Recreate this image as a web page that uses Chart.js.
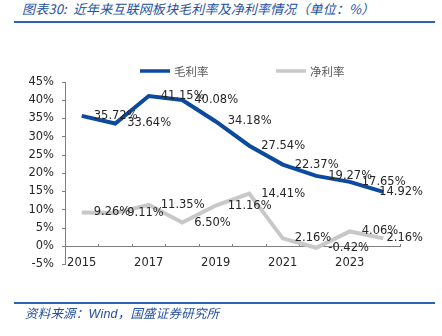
<!DOCTYPE html>
<html>
<head>
<meta charset="utf-8">
<script src="https://cdn.jsdelivr.net/npm/chart.js@4.4.1/dist/chart.umd.min.js"></script>
<style>
  html, body { margin: 0; padding: 0; background: #fff; }
  #wrap { position: relative; width: 442px; height: 336px; overflow: hidden; background: #fff; }
  #chart { position: absolute; left: 0; top: 0; }
  .cap { position: absolute; font-family: "Noto Sans CJK SC"; font-style: italic; color: #24509E; white-space: nowrap; }
  .rule { position: absolute; left: 14px; width: 421px; height: 2px; background: #2A62B5; }
</style>
</head>
<body>
<div id="wrap">
  <div class="cap" style="left:22px; top:1px; font-size:13px; line-height:16px; letter-spacing:0.15px;">图表30:&nbsp; 近年来互联网板块毛利率及净利率情况（单位：%）</div>
  <div class="rule" style="top:21px;"></div>
  <canvas id="chart" width="442" height="336"></canvas>
  <div class="rule" style="top:302px;"></div>
  <div class="cap" style="left:25px; top:305px; font-size:12.5px; line-height:16px; letter-spacing:0.2px;">资料来源：<span style="font-family:'Liberation Sans', Arial;">Wind</span>，国盛证券研究所</div>
</div>
<script>
// Yearly figures for the internet sector (%)
const years = ['2015', '2016', '2017', '2018', '2019', '2020', '2021', '2022', '2023', '2024'];
const grossMargin = [35.72, 33.64, 41.15, 40.08, 34.18, 27.54, 22.37, 19.27, 17.65, 14.92];
const netMargin = [9.26, 9.11, 11.35, 6.50, 11.16, 14.41, 2.16, -0.42, 4.06, 2.16];
const seriesNames = ['毛利率', '净利率'];
const yMin = -5, yMax = 45, yStep = 5;

const AXIS_COLOR = '#7f7f7f';
const TEXT_COLOR = '#262626';
const NUM_FONT = { family: 'DejaVu Sans', size: 11.5 };

Chart.defaults.font.family = 'DejaVu Sans';

// Percentage label placed to the right of each point, kept inside the canvas
const valueLabels = {
  id: 'valueLabels',
  afterDatasetsDraw(chart) {
    const ctx = chart.ctx;
    ctx.save();
    ctx.font = NUM_FONT.size + 'px "' + NUM_FONT.family + '"';
    ctx.fillStyle = TEXT_COLOR;
    ctx.textAlign = 'left';
    ctx.textBaseline = 'middle';
    chart.data.datasets.forEach((ds, di) => {
      const meta = chart.getDatasetMeta(di);
      meta.data.forEach((pt, i) => {
        const txt = ds.data[i].toFixed(2) + '%';
        const w = ctx.measureText(txt).width;
        let x = pt.x + 12;
        if (x + w > 423) x = 423 - w;
        ctx.fillText(txt, x, pt.y);
      });
    });
    ctx.restore();
  }
};

// Legend row above the plot: line sample followed by the series name
const topLegend = {
  id: 'topLegend',
  afterDraw(chart) {
    const ctx = chart.ctx;
    const starts = [140, 276];
    const y = 71;
    ctx.save();
    chart.data.datasets.forEach((ds, i) => {
      const x0 = starts[i];
      ctx.strokeStyle = ds.borderColor;
      ctx.lineWidth = 3.5;
      ctx.lineCap = 'butt';
      ctx.beginPath();
      ctx.moveTo(x0, y);
      ctx.lineTo(x0 + 30, y);
      ctx.stroke();
      ctx.font = '11.5px "Noto Sans CJK SC"';
      ctx.fillStyle = '#595959';
      ctx.textAlign = 'left';
      ctx.textBaseline = 'middle';
      ctx.fillText(ds.label, x0 + 34, y + 0.5);
    });
    ctx.restore();
  }
};

new Chart(document.getElementById('chart'), {
  type: 'line',
  data: {
    labels: years,
    datasets: [
      { label: seriesNames[0], data: grossMargin, borderColor: '#0B4A9E', borderWidth: 4,
        pointRadius: 0, tension: 0, fill: false },
      { label: seriesNames[1], data: netMargin, borderColor: '#C8C8C8', borderWidth: 4,
        pointRadius: 0, tension: 0, fill: false }
    ]
  },
  options: {
    responsive: false,
    animation: false,
    devicePixelRatio: 1,
    layout: { padding: { left: 0, top: 82, right: 42, bottom: 71.5 } },
    plugins: { legend: { display: false }, tooltip: { enabled: false } },
    scales: {
      x: {
        position: { y: 0 },
        offset: true,
        grid: { offset: true, drawOnChartArea: false, drawTicks: true, tickLength: -3, color: AXIS_COLOR },
        border: { color: AXIS_COLOR, width: 1 },
        ticks: {
          autoSkip: false, maxRotation: 0, padding: 13, color: TEXT_COLOR, font: NUM_FONT,
          callback: (v, i) => (i % 2 === 0 ? years[i] : '')
        }
      },
      y: {
        min: yMin, max: yMax,
        grid: { drawOnChartArea: false, tickLength: 3, color: AXIS_COLOR },
        border: { color: AXIS_COLOR, width: 1 },
        ticks: { stepSize: yStep, padding: 8, color: TEXT_COLOR, font: NUM_FONT, callback: v => v + '%' },
        afterFit(scale) { scale.width = 65; }
      }
    }
  },
  plugins: [valueLabels, topLegend]
});
</script>
</body>
</html>
